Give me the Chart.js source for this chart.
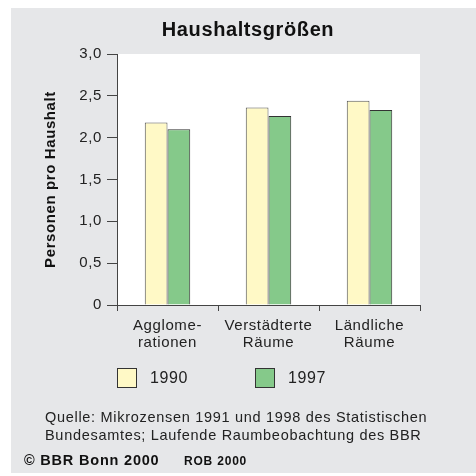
<!DOCTYPE html>
<html>
<head>
<meta charset="utf-8">
<script src="https://cdn.jsdelivr.net/npm/chart.js@4.4.0/dist/chart.umd.min.js"></script>
<style>
  html, body { margin: 0; padding: 0; background: #ffffff; }
  #wrap { position: relative; width: 476px; height: 476px; font-family: "Liberation Sans", Arial, sans-serif; }
  canvas { position: absolute; left: 0; top: 0; }
  .src { position: absolute; left: 45px; top: 408px; font-size: 14.5px; letter-spacing: 0.7px; line-height: 18px; color: #222; white-space: nowrap; }
  .copy { position: absolute; left: 24px; top: 452px; font-size: 14.5px; letter-spacing: 0.8px; font-weight: bold; color: #111; white-space: nowrap; }
  .rob { position: absolute; left: 184px; top: 454px; font-size: 12px; letter-spacing: 0.8px; font-weight: bold; color: #111; white-space: nowrap; }
</style>
</head>
<body>
<div id="wrap">
  <canvas id="c" width="476" height="476"></canvas>
  <div class="src">Quelle: Mikrozensen 1991 und 1998 des Statistischen<br>Bundesamtes; Laufende Raumbeobachtung des BBR</div>
  <div class="copy">© BBR Bonn 2000</div>
  <div class="rob">ROB 2000</div>
</div>
<script>
const categories = [["Agglome-", "rationen"], ["Verstädterte", "Räume"], ["Ländliche", "Räume"]];
const series1990 = [2.18, 2.36, 2.44];
const series1997 = [2.10, 2.26, 2.33];
const seriesNames = ["1990", "1997"];
const yTicks = [0, 0.5, 1.0, 1.5, 2.0, 2.5, 3.0];

const font = "'Liberation Sans', Arial, sans-serif";

const spacingPlugin = {
  id: 'spacing',
  beforeLayout(chart) { chart.ctx.letterSpacing = '0.6px'; },
  beforeDraw(chart) { chart.ctx.letterSpacing = '0.6px'; }
};

const bgPlugin = {
  id: 'bg',
  beforeDraw(chart) {
    const ctx = chart.ctx;
    ctx.save();
    ctx.fillStyle = '#e6e7e9';
    ctx.fillRect(11, 8, 465, 465);
    const a = chart.chartArea;
    ctx.fillStyle = '#ffffff';
    ctx.fillRect(a.left, a.top, a.right - a.left, a.bottom - a.top);
    ctx.restore();
  }
};

const legendPlugin = {
  id: 'customLegend',
  afterDraw(chart) {
    const ctx = chart.ctx;
    const boxX = [117, 255];
    const boxY = 368, size = 20;
    ctx.save();
    ctx.letterSpacing = '0.6px';
    ctx.font = "16px " + font;
    ctx.textBaseline = 'middle';
    ctx.textAlign = 'left';
    chart.data.datasets.forEach((d, i) => {
      ctx.fillStyle = d.backgroundColor;
      ctx.fillRect(boxX[i], boxY, size, size);
      ctx.strokeStyle = '#333';
      ctx.lineWidth = 1;
      ctx.strokeRect(boxX[i] + 0.5, boxY + 0.5, size - 1, size - 1);
      ctx.fillStyle = '#222';
      ctx.fillText(d.label, boxX[i] + size + 13, boxY + size / 2 + 1);
    });
    ctx.restore();
  }
};

new Chart(document.getElementById('c'), {
  type: 'bar',
  data: {
    labels: categories,
    datasets: [
      { label: seriesNames[0], data: series1990, backgroundColor: '#fff9c6', borderColor: '#555', borderWidth: 1,
        categoryPercentage: 0.45, barPercentage: 1.0, yAxisID: 'y' },
      { label: seriesNames[1], data: series1997, backgroundColor: '#85c98a', borderColor: '#333', borderWidth: 1,
        categoryPercentage: 0.45, barPercentage: 1.0, yAxisID: 'y' }
    ]
  },
  options: {
    responsive: false,
    animation: false,
    layout: { padding: { left: 20, right: 0, top: 8, bottom: 100 } },
    plugins: {
      title: {
        display: true, text: 'Haushaltsgrößen', color: '#111',
        font: { family: font, size: 20, weight: 'bold', lineHeight: 1.2 },
        padding: { top: 10, bottom: 12 }
      },
      legend: { display: false },
      tooltip: { enabled: false }
    },
    scales: {
      x: {
        grid: { display: true, offset: true, drawOnChartArea: false, drawTicks: true, tickLength: 6, color: '#444' },
        border: { display: true, color: '#444', width: 1 },
        ticks: { color: '#222', font: { family: font, size: 15, lineHeight: 1.15 }, padding: 6, maxRotation: 0 },
        afterFit(s) { s.height = 71; }
      },
      y: {
        position: 'left',
        min: 0, max: 3,
        afterBuildTicks(s) { s.ticks = yTicks.map(v => ({ value: v })); },
        grid: { display: true, drawOnChartArea: false, drawTicks: true, tickLength: 10, color: '#444' },
        border: { display: true, color: '#444', width: 1 },
        ticks: {
          color: '#222', font: { family: font, size: 15 }, padding: 5,
          callback(v) { return v === 0 ? '0' : v.toFixed(1).replace('.', ','); }
        },
        title: {
          display: true, text: 'Personen pro Haushalt', color: '#111',
          font: { family: font, size: 15, weight: 'bold' }, padding: { top: 22, bottom: 0 }
        },
        afterFit(s) { s.width = 97; }
      },
      yRight: {
        position: 'right',
        display: true,
        min: 0, max: 3,
        grid: { display: false },
        border: { display: false },
        ticks: { display: false },
        afterFit(s) { s.width = 56; }
      }
    }
  },
  plugins: [spacingPlugin, bgPlugin, legendPlugin]
});
</script>
</body>
</html>
